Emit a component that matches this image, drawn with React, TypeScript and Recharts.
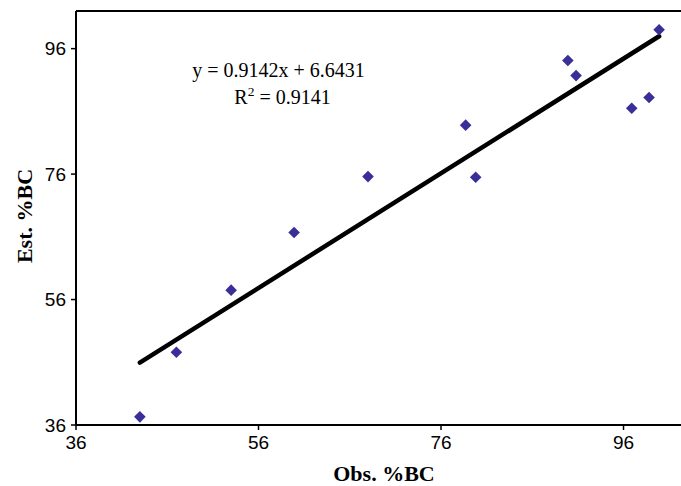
import { ScatterChart, Scatter, XAxis, YAxis, ReferenceLine } from "recharts";

// observed vs estimated %BC
const obsBC = [43.0, 47.0, 53.0, 59.9, 68.0, 78.7, 79.8, 89.9, 90.8, 96.9, 98.8, 99.9];
const estBC = [37.3, 47.6, 57.5, 66.7, 75.6, 83.8, 75.5, 94.1, 91.7, 86.5, 88.2, 99.0];
const ticks = [36, 56, 76, 96];

const slope = 0.9142;
const intercept = 6.6431;

const points = obsBC.map((x, i) => ({ x, y: estBC[i] }));
const xMin = Math.min(...obsBC);
const xMax = Math.max(...obsBC);
const trend = [
  { x: xMin, y: slope * xMin + intercept },
  { x: xMax, y: slope * xMax + intercept },
];

const tickFont = { fontFamily: "'Liberation Sans', Arial, sans-serif", fontSize: 19, fill: "#000" };
const serif = "'Liberation Serif', 'Times New Roman', serif";

const Diamond = (props: any) => {
  const { cx, cy } = props;
  const r = 5.8;
  return (
    <polygon
      points={`${cx},${cy - r} ${cx + r},${cy} ${cx},${cy + r} ${cx - r},${cy}`}
      fill="#3a2e98"
    />
  );
};

export default function App() {
  return (
    <div style={{ position: "absolute", left: 0, top: 0, background: "#fff" }}>
      <ScatterChart width={681} height={486} margin={{ top: 11, right: 0, bottom: 0, left: 0 }}>
        <XAxis
          type="number"
          dataKey="x"
          domain={[36, 102.3]}
          ticks={ticks}
          allowDataOverflow
          height={61}
          tick={tickFont}
          tickSize={5}
          tickMargin={6}
          axisLine={{ stroke: "#000", strokeWidth: 2 }}
          tickLine={{ stroke: "#000", strokeWidth: 1.5 }}
        />
        <YAxis
          type="number"
          dataKey="y"
          domain={[36, 102]}
          ticks={ticks}
          allowDataOverflow
          width={76}
          tick={tickFont}
          tickSize={5}
          tickMargin={5}
          axisLine={{ stroke: "#000", strokeWidth: 2 }}
          tickLine={{ stroke: "#000", strokeWidth: 1.5 }}
        />
        <ReferenceLine y={102} stroke="#000" strokeWidth={2} ifOverflow="extendDomain" />
        <Scatter
          data={trend}
          line={{ stroke: "#000", strokeWidth: 4.5, strokeLinecap: "round" }}
          shape={() => <g />}
          isAnimationActive={false}
        />
        <Scatter data={points} shape={Diamond} isAnimationActive={false} />
        <g fontFamily={serif} fill="#000">
          <text x={278.5} y={76.5} fontSize={20} textAnchor="middle">
            y = 0.9142x + 6.6431
          </text>
          <text x={282.5} y={104} fontSize={20} textAnchor="middle">
            R<tspan dy={-8} fontSize={13.5}>2</tspan>
            <tspan dy={8}> = 0.9141</tspan>
          </text>
          <text x={384} y={481} fontSize={22} fontWeight="bold" textAnchor="middle">
            Obs. %BC
          </text>
          <text
            x={32}
            y={216}
            fontSize={22}
            fontWeight="bold"
            textAnchor="middle"
            transform="rotate(-90, 32, 216)"
          >
            Est. %BC
          </text>
        </g>
      </ScatterChart>
    </div>
  );
}
